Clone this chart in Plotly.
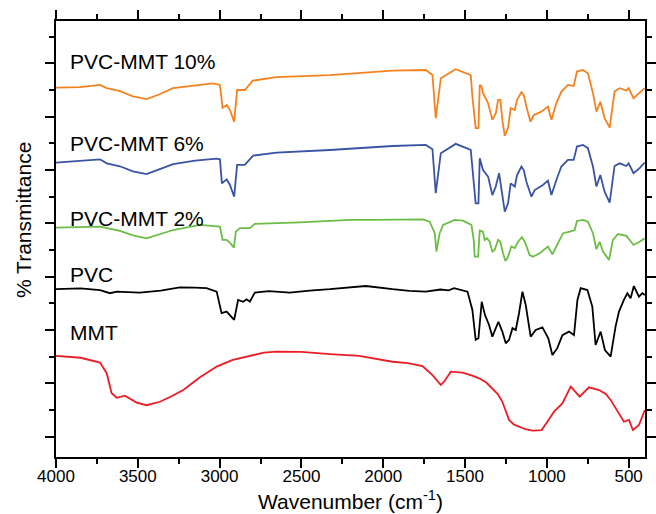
import plotly.graph_objects as go

# ---------------- data (wavenumber cm-1, offset % transmittance, arbitrary units) -------------
mmt10_wn = [4000, 3853, 3731, 3690, 3609, 3530, 3446, 3370, 3285, 3150, 3041, 2998, 2982, 2957,
            2937, 2911, 2893, 2846, 2827, 2797, 2652, 2326, 1943, 1740, 1699, 1679, 1648, 1557,
            1465, 1455, 1435, 1418, 1410, 1400, 1390, 1359, 1333, 1312, 1298, 1284, 1272, 1257,
            1237, 1221, 1196, 1182, 1155, 1141, 1125, 1100, 1080, 1033, 993, 972, 942, 911, 871,
            836, 816, 779, 749, 718, 697, 673, 647, 616, 586, 555, 514, 500, 470, 433, 402]
mmt10_t = [140.9, 141.1, 141.9, 140.7, 139.6, 137.6, 136.6, 138.3, 140.7, 141.8, 142.5, 141.9,
           133.3, 134.4, 132.5, 128.1, 140.0, 140.0, 141.5, 143.5, 144.8, 145.6, 147.3, 147.5,
           145.6, 129.4, 144.4, 147.8, 145.6, 137.5, 125.7, 125.7, 141.9, 141.5, 138.8, 135.0,
           128.8, 131.3, 136.3, 136.3, 128.8, 122.8, 125.7, 133.2, 132.5, 136.3, 139.2, 138.1,
           133.8, 128.1, 130.6, 131.9, 133.8, 128.8, 135.0, 139.4, 141.9, 141.5, 146.9, 147.5,
           146.3, 138.8, 131.9, 135.6, 129.4, 125.9, 139.4, 140.7, 139.8, 140.7, 136.9, 138.8,
           140.7]

mmt6_wn = [4000, 3731, 3690, 3609, 3530, 3446, 3370, 3284, 3150, 3018, 2998, 2986, 2957, 2937,
           2911, 2893, 2846, 2825, 2795, 2652, 2326, 1943, 1740, 1699, 1679, 1648, 1557, 1465,
           1455, 1435, 1418, 1410, 1390, 1359, 1333, 1312, 1292, 1272, 1257, 1237, 1221, 1196,
           1182, 1155, 1141, 1125, 1094, 1074, 1024, 993, 972, 938, 911, 871, 836, 816, 779, 749,
           718, 697, 673, 647, 616, 586, 555, 514, 500, 470, 433, 402]
mmt6_t = [112.8, 114.0, 112.5, 111.4, 109.5, 108.5, 110.2, 112.2, 113.5, 114.3, 114.0, 105.0,
          106.5, 104.4, 100.0, 111.9, 111.9, 113.4, 115.4, 116.5, 117.5, 119.0, 119.4, 117.8,
          101.3, 116.3, 119.8, 117.5, 110.0, 97.5, 97.5, 114.4, 110.0, 107.5, 100.6, 103.8,
          108.8, 101.3, 94.4, 97.5, 105.0, 103.8, 108.1, 111.3, 110.0, 105.6, 100.0, 102.5,
          104.4, 106.0, 100.6, 106.9, 111.3, 113.8, 113.8, 118.8, 119.4, 118.2, 111.3, 103.8,
          108.1, 101.9, 97.8, 111.5, 112.5, 111.5, 112.5, 108.8, 110.7, 112.8]

mmt2_wn = [4000, 3731, 3609, 3530, 3446, 3370, 3284, 3120, 3018, 2998, 2982, 2957, 2933, 2913,
           2901, 2876, 2815, 2785, 2510, 2204, 2064, 1758, 1716, 1685, 1675, 1655, 1634, 1563,
           1512, 1461, 1447, 1441, 1420, 1410, 1390, 1380, 1366, 1349, 1333, 1319, 1298, 1284,
           1268, 1253, 1237, 1217, 1196, 1176, 1152, 1135, 1105, 1085, 1044, 993, 966, 932, 901,
           860, 830, 816, 779, 749, 718, 697, 677, 657, 620, 596, 565, 514, 470, 433, 402]
mmt2_t = [88.4, 88.8, 87.2, 85.5, 84.4, 85.8, 87.5, 89.4, 89.0, 88.8, 83.8, 83.8, 82.5, 80.9,
          86.9, 88.2, 88.2, 89.8, 90.4, 91.3, 91.3, 91.5, 90.6, 86.3, 79.4, 86.3, 89.4, 91.3,
          91.0, 89.4, 83.8, 77.5, 77.5, 87.3, 86.9, 83.8, 84.4, 83.1, 79.4, 80.0, 83.8, 83.1,
          78.8, 75.9, 77.5, 81.3, 80.7, 83.1, 84.8, 83.1, 78.1, 77.5, 78.8, 81.3, 78.4, 82.5,
          86.3, 86.9, 87.5, 90.9, 91.3, 90.6, 86.3, 80.3, 83.1, 79.4, 76.3, 83.8, 86.0, 85.3,
          81.9, 83.1, 84.4]

pvc_wn = [4000, 3850, 3731, 3700, 3670, 3629, 3560, 3487, 3360, 3243, 3150, 3080, 3018, 2988,
          2957, 2911, 2887, 2856, 2835, 2815, 2785, 2700, 2571, 2450, 2326, 2107, 1943, 1840,
          1740, 1650, 1600, 1567, 1485, 1455, 1435, 1418, 1398, 1378, 1353, 1333, 1296, 1272,
          1251, 1231, 1210, 1190, 1170, 1149, 1129, 1099, 1068, 1027, 991, 966, 936, 905, 865,
          834, 813, 793, 752, 722, 702, 671, 645, 610, 580, 559, 529, 508, 488, 468, 437, 416,
          401]
pvc_t = [65.3, 65.6, 65.0, 64.5, 63.8, 64.4, 64.1, 64.0, 64.8, 66.0, 65.9, 65.7, 64.4, 56.3,
         56.9, 53.8, 61.3, 60.6, 61.5, 60.6, 64.0, 64.6, 64.0, 64.8, 65.3, 66.5, 65.3, 64.7, 64.4,
         65.2, 64.9, 65.7, 64.4, 57.5, 46.3, 46.9, 60.6, 55.6, 51.9, 47.5, 53.1, 49.4, 45.0,
         46.3, 50.7, 50.0, 56.3, 64.4, 59.4, 47.5, 50.0, 51.0, 46.9, 40.6, 43.2, 48.1, 49.4,
         48.1, 61.3, 65.7, 65.0, 58.8, 44.4, 49.4, 42.5, 40.0, 51.3, 56.9, 61.3, 63.8, 61.9,
         66.5, 62.5, 63.8, 63.1]

mmt_wn = [4000, 3850, 3731, 3690, 3660, 3629, 3579, 3507, 3446, 3365, 3300, 3222, 3120, 3018,
          2920, 2815, 2730, 2652, 2500, 2326, 2147, 1943, 1850, 1760, 1699, 1648, 1628, 1587,
          1516, 1460, 1414, 1370, 1333, 1300, 1272, 1231, 1200, 1170, 1130, 1088, 1032, 997,
          956, 905, 854, 799, 743, 681, 640, 610, 570, 529, 498, 474, 437, 401]
mmt_t = [40.3, 39.6, 37.8, 33.8, 26.3, 24.6, 25.4, 22.8, 21.8, 23.1, 25.0, 27.5, 32.3, 36.3,
         38.8, 40.3, 41.5, 41.9, 41.8, 41.0, 40.3, 38.1, 37.6, 36.5, 33.1, 29.4, 30.6, 34.4,
         34.0, 33.0, 31.9, 30.3, 28.2, 26.0, 23.1, 16.3, 14.5, 13.8, 12.8, 12.3, 12.5, 15.6,
         19.4, 22.5, 28.8, 25.0, 28.5, 27.5, 26.0, 23.8, 19.5, 15.6, 16.3, 12.5, 14.4, 20.0]

series = [
    ("PVC-MMT 10%", mmt10_wn, mmt10_t, "#F5821F", 150.8),
    ("PVC-MMT 6%", mmt6_wn, mmt6_t, "#3A53A4", 120.1),
    ("PVC-MMT 2%", mmt2_wn, mmt2_t, "#6CBD45", 92.0),
    ("PVC", pvc_wn, pvc_t, "#000000", 70.8),
    ("MMT", mmt_wn, mmt_t, "#ED1C24", 48.9),
]

FONT = "Arial, 'Liberation Sans', Helvetica, sans-serif"

fig = go.Figure()
for name, xs, ys, col, _ in series:
    fig.add_trace(go.Scatter(x=xs, y=ys, mode="lines", name=name,
                             line=dict(color=col, width=1.8), showlegend=False))

for name, xs, ys, col, ly in series:
    fig.add_annotation(x=3927, y=ly, xref="x", yref="y", text=name, showarrow=False,
                       xanchor="left", yanchor="middle",
                       font=dict(family=FONT, size=21, color="#000000"))

fig.add_annotation(x=-0.0543, y=0.5436, xref="paper", yref="paper", text="% Transmittance",
                   textangle=-90, showarrow=False, xanchor="center", yanchor="middle",
                   font=dict(family=FONT, size=21, color="#000000"))

fig.add_annotation(x=0.5, y=-0.0986, xref="paper", yref="paper",
                   text="Wavenumber (cm<sup>-1</sup>)", showarrow=False,
                   xanchor="center", yanchor="middle",
                   font=dict(family=FONT, size=21, color="#000000"))

fig.update_layout(
    width=656, height=514,
    margin=dict(l=56, r=11, t=21, b=57, autoexpand=False),
    paper_bgcolor="white", plot_bgcolor="white",
    font=dict(family=FONT, size=17, color="#000000"),
)
fig.update_xaxes(
    range=[4000, 400], showgrid=False, zeroline=False, automargin=False,
    showline=True, linecolor="black", linewidth=1.5, mirror="ticks",
    ticks="outside", ticklen=9, tickwidth=1.5, tickcolor="black",
    tick0=0, dtick=500, ticklabelstandoff=-6,
    minor=dict(ticks="outside", ticklen=5, tickwidth=1.5, tickcolor="black", dtick=250, tick0=0),
    tickfont=dict(family=FONT, size=17),
)
fig.update_yaxes(
    range=[2.39, 165.87], showgrid=False, zeroline=False, automargin=False,
    showline=True, linecolor="black", linewidth=1.5, mirror="ticks",
    ticks="outside", ticklen=9, tickwidth=1.5, tickcolor="black",
    tick0=10, dtick=20, showticklabels=False,
    minor=dict(ticks="outside", ticklen=5, tickwidth=1.5, tickcolor="black", dtick=10, tick0=10),
)

fig.write_html("out.html", config={"displayModeBar": False},
               post_script="document.body.style.margin='0';document.body.style.overflow='hidden';")
